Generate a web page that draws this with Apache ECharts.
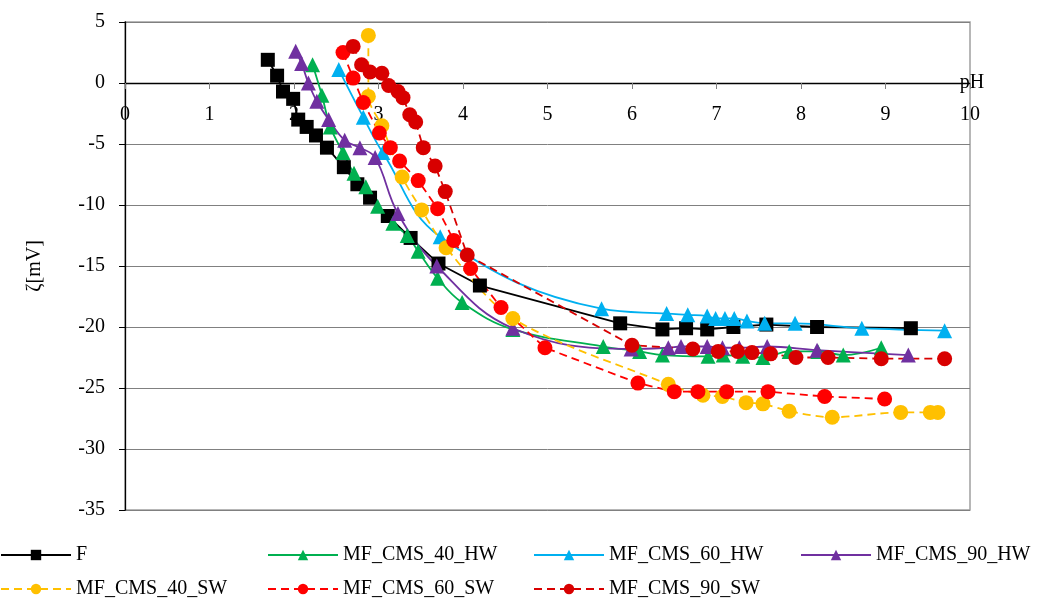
<!DOCTYPE html>
<html>
<head>
<meta charset="utf-8">
<script src="https://cdn.jsdelivr.net/npm/echarts@6/dist/echarts.min.js"></script>
<style>html,body{margin:0;padding:0;background:#fff}#c{width:1040px;height:603px}</style>
</head>
<body>
<div id="c"></div>
<script>
// ---- data ----
var xTicks = [0,1,2,3,4,5,6,7,8,9,10];
var yTicks = [5,0,-5,-10,-15,-20,-25,-30,-35];

var F_pH = [1.69,1.80,1.87,1.99,2.05,2.15,2.26,2.39,2.59,2.75,2.90,3.11,3.38,3.71,4.20,5.86,6.36,6.64,6.89,7.20,7.59,8.19,9.30];
var F_z  = [1.9,0.6,-0.7,-1.3,-3.0,-3.6,-4.3,-5.3,-6.9,-8.3,-9.4,-10.9,-12.7,-14.8,-16.6,-19.7,-20.2,-20.1,-20.2,-20.0,-19.8,-20.0,-20.1];

var HW40_pH = [2.22,2.33,2.43,2.58,2.71,2.85,2.99,3.17,3.34,3.47,3.70,3.99,4.59,5.66,6.09,6.36,6.90,7.08,7.31,7.55,7.86,8.20,8.50,8.95];
var HW40_z  = [1.5,-1.0,-3.6,-5.7,-7.4,-8.5,-10.1,-11.5,-12.5,-13.8,-16.0,-18.0,-20.2,-21.6,-22.0,-22.3,-22.4,-22.3,-22.4,-22.5,-22.0,-22.0,-22.3,-21.7];

var HW60_pH = [2.53,2.82,3.05,3.73,5.64,6.41,6.66,6.89,6.99,7.10,7.21,7.36,7.57,7.93,8.72,9.70];
var HW60_z  = [1.1,-2.8,-5.7,-12.6,-18.5,-18.9,-19.0,-19.1,-19.3,-19.3,-19.3,-19.5,-19.7,-19.7,-20.1,-20.3];

var HW90_pH = [2.02,2.09,2.17,2.27,2.41,2.60,2.78,2.96,3.23,3.69,4.59,5.99,6.43,6.58,6.89,7.07,7.27,7.60,8.19,9.27];
var HW90_z  = [2.6,1.6,0.0,-1.5,-3.0,-4.7,-5.3,-6.1,-10.7,-15.0,-20.1,-21.8,-21.7,-21.6,-21.6,-21.7,-21.7,-21.6,-21.9,-22.3];

var SW40_pH = [2.88,2.88,3.04,3.28,3.51,3.80,4.59,6.43,6.84,7.07,7.35,7.55,7.86,8.37,9.18,9.53,9.62];
var SW40_z  = [3.9,-1.1,-3.5,-7.7,-10.4,-13.5,-19.3,-24.7,-25.6,-25.7,-26.2,-26.3,-26.9,-27.4,-27.0,-27.0,-27.0];

var SW60_pH = [2.58,2.70,2.82,3.01,3.14,3.25,3.47,3.70,3.89,4.09,4.45,4.97,6.07,6.50,6.78,7.12,7.61,8.28,8.99];
var SW60_z  = [2.5,0.4,-1.6,-4.1,-5.3,-6.4,-8.0,-10.3,-12.9,-15.2,-18.4,-21.7,-24.6,-25.3,-25.3,-25.3,-25.3,-25.7,-25.9];

var SW90_pH = [2.70,2.80,2.90,3.04,3.12,3.23,3.29,3.37,3.44,3.53,3.67,3.79,4.05,6.00,6.72,7.02,7.25,7.42,7.64,7.94,8.32,8.95,9.70];
var SW90_z  = [3.0,1.5,0.9,0.8,-0.2,-0.7,-1.2,-2.6,-3.2,-5.3,-6.8,-8.9,-14.1,-21.5,-21.8,-22.0,-22.0,-22.1,-22.2,-22.5,-22.5,-22.6,-22.6];

var names = ['F','MF_CMS_40_HW','MF_CMS_60_HW','MF_CMS_90_HW','MF_CMS_40_SW','MF_CMS_60_SW','MF_CMS_90_SW'];

// ---- build ----
function pairs(xs, ys){ return xs.map(function(x,i){ return [x, ys[i]]; }); }
var FONT = 'Liberation Serif';
var GRID_TOP = 22, GRID_BOTTOM_PX = 510;
var yMin = yTicks[yTicks.length-1], yMax = yTicks[0];
// pixel distance from bottom of plot to the zero line
var zeroOffset = (GRID_BOTTOM_PX - GRID_TOP) * (0 - yMin) / (yMax - yMin);

function mk(name, xs, ys, color, symbol, size, dashed, smooth){
  return {
    name: name, type: 'line', data: pairs(xs, ys),
    symbol: symbol, symbolSize: size, smooth: smooth,
    showSymbol: true,
    lineStyle: { color: color, width: 1.8, type: dashed ? [8,5] : 'solid' },
    itemStyle: { color: color },
    emphasis: { disabled: true },
    animation: false
  };
}

var series = [
  mk(names[0], F_pH, F_z, '#000000', 'rect', 14, false, false),
  mk(names[1], HW40_pH, HW40_z, '#00b050', 'triangle', 15, false, 0.4),
  mk(names[2], HW60_pH, HW60_z, '#00b0f0', 'triangle', 15, false, 0.4),
  mk(names[3], HW90_pH, HW90_z, '#7030a0', 'triangle', 15, false, 0.4),
  mk(names[4], SW40_pH, SW40_z, '#ffc000', 'circle', 15, true, 0.3),
  mk(names[5], SW60_pH, SW60_z, '#ff0000', 'circle', 15, true, false),
  mk(names[6], SW90_pH, SW90_z, '#d80000', 'circle', 15, true, false)
];

var legPos = [[0,545],[267,545],[533,545],[800,545],[0,579],[267,579],[533,579]];
var legends = names.map(function(n,i){
  return {
    data: [n], left: legPos[i][0], top: legPos[i][1], orient: 'horizontal',
    itemWidth: 70, itemHeight: 13, padding: 0, selectedMode: false,
    textStyle: { fontFamily: FONT, fontSize: 20, color: '#000' }
  };
});

var chart = echarts.init(document.getElementById('c'), null, {renderer: 'canvas'});
chart.setOption({
  backgroundColor: '#ffffff',
  animation: false,
  legend: legends,
  grid: { left: 125, right: 70, top: GRID_TOP, bottom: 603 - GRID_BOTTOM_PX, show: true, borderColor: '#a0a0a0', borderWidth: 1.5, containLabel: false },
  xAxis: {
    type: 'value', min: xTicks[0], max: xTicks[xTicks.length-1], interval: 1,
    position: 'bottom', offset: -zeroOffset,
    name: 'pH', nameLocation: 'end', nameGap: 2,
    nameTextStyle: { fontFamily: FONT, fontSize: 20, color: '#000', align: 'center', verticalAlign: 'middle', padding: [0,0,12,0] },
    axisLine: { show: true, onZero: false, lineStyle: { color: '#000', width: 1.3 } },
    axisTick: { show: true, length: 6, inside: false, lineStyle: { color: '#808080' } },
    axisLabel: { fontFamily: FONT, fontSize: 20, color: '#000', margin: 22,
      formatter: function(v){ return xTicks.indexOf(v) >= 0 ? String(v) : ''; } },
    splitLine: { show: false }
  },
  yAxis: {
    type: 'value', min: yMin, max: yMax, interval: 5,
    name: 'ζ[mV]', nameLocation: 'middle', nameRotate: 90, nameGap: 80,
    nameTextStyle: { fontFamily: FONT, fontSize: 20, color: '#000' },
    axisLine: { show: true, onZero: false, lineStyle: { color: '#000', width: 1.3 } },
    axisTick: { show: true, length: 6, inside: false, lineStyle: { color: '#000' } },
    axisLabel: { fontFamily: FONT, fontSize: 20, color: '#000', margin: 20 },
    splitLine: { show: true, lineStyle: { color: '#808080', width: 1 } }
  },
  series: series
});
</script>
</body>
</html>
